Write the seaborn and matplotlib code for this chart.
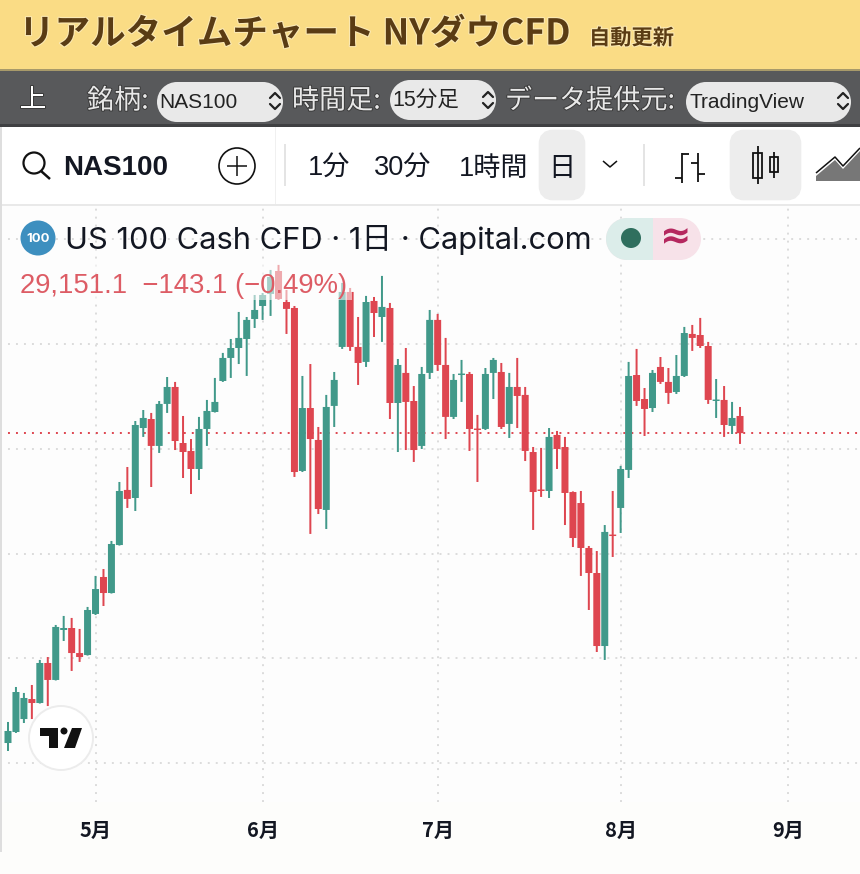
import pandas as pd
import matplotlib.pyplot as plt
import matplotlib.patches as mp
import matplotlib.patheffects as pe
import seaborn as sns

# daily OHLC
opens = [26193, 26298, 26422, 26613, 26575, 26957, 26795, 27272, 27291, 27052, 27033, 27425, 27778, 27625, 28083, 28609,
         28532, 29200, 29286, 29029, 29430, 29592, 29057, 28981, 28809, 29191, 29353, 29649, 29869, 29964, 30050, 30241,
         30365, 30480, 30699, 30403, 30346, 28790, 29391, 29086, 28418, 29411, 29974, 30499, 29974, 29831, 30413, 30260,
         30346, 29439, 29726, 29458, 29029, 29726, 30232, 29802, 29306, 29706, 29716, 29191, 29191, 29726, 29735, 29239,
         29592, 29516, 28971, 28609, 28599, 29134, 29019, 28589, 28484, 28055, 27816, 27119, 28179, 28437, 28800, 29706,
         29477, 29391, 29783, 29640, 29544, 29697, 30098, 30088, 29983, 29458, 29468, 29220, 29315]
highs = [26394, 26728, 26671, 26747, 26986, 27014, 27320, 27406, 27387, 27282, 27492, 27788, 27854, 28122, 28685, 28828,
         29267, 29372, 29344, 29458, 29687, 29640, 29315, 29095, 29306, 29468, 29678, 29917, 30050, 30308, 30260, 30470,
         30489, 30709, 30757, 30518, 30365, 29697, 29811, 29210, 29516, 29735, 30585, 30537, 30260, 30461, 30451, 30652,
         30394, 29859, 29964, 29601, 29783, 30327, 30289, 30060, 29716, 29850, 29735, 29325, 29773, 29869, 29821, 29726,
         29869, 29592, 29019, 29010, 29200, 29172, 29115, 28595, 28599, 28074, 28026, 28274, 28599, 28838, 29831, 29955,
         29582, 29754, 29878, 29773, 29897, 30165, 30184, 30251, 30022, 29668, 29601, 29449, 29401]
lows = [26117, 26289, 26384, 26422, 26570, 26546, 26790, 27167, 26881, 26967, 27028, 27415, 27501, 27620, 28078, 28437,
        28408, 29115, 28637, 28962, 29344, 28990, 28723, 28570, 28704, 29029, 29348, 29640, 29678, 29811, 29697, 30155,
        30232, 30270, 30423, 30098, 28733, 28780, 28189, 28379, 28236, 29210, 29955, 29936, 29611, 29783, 30069, 30022,
        29286, 28971, 28990, 28876, 29000, 29668, 29745, 29095, 29286, 29449, 28981, 28685, 29181, 29477, 29191, 29105,
        29200, 28885, 28227, 28542, 28532, 28809, 28274, 28064, 27788, 27463, 27062, 26986, 27969, 28198, 28723, 29411,
        29124, 29353, 29621, 29430, 29525, 29687, 29936, 29964, 29430, 29296, 29115, 29143, 29048]
closes = [26308, 26680, 26623, 26575, 26957, 26795, 27301, 27291, 27052, 27014, 27463, 27663, 27625, 28093, 28599, 28523,
          29229, 29296, 29029, 29430, 29592, 29076, 28971, 28809, 29191, 29363, 29449, 29869, 29964, 30060, 30232, 30327,
          30470, 30642, 30432, 30337, 28780, 29391, 29095, 28427, 29401, 29659, 30499, 29974, 29821, 30403, 30298, 30356,
          29439, 29802, 29449, 28990, 29716, 30232, 29802, 29306, 29659, 29716, 29191, 29181, 29716, 29850, 29210, 29592,
          29506, 28981, 28589, 28599, 29115, 29000, 28580, 28150, 28055, 27816, 27119, 28208, 28169, 28809, 29697, 29458,
          29382, 29726, 29640, 29535, 29697, 30107, 30060, 29983, 29468, 29468, 29229, 29296, 29151]
month_pos = [11, 32, 54, 77, 98]
month_labels = ['5月', '6月', '7月', '8月', '9月']
price_grid = [26000, 27000, 28000, 29000, 30000, 31000]
last_price = 29151.1

UP = '#41998a'
DOWN = '#de4650'
W, H = 860, 874
JP = ['Noto Sans CJK JP', 'DejaVu Sans']
LATIN = ['Inter', 'Noto Sans CJK JP', 'DejaVu Sans']
HELV = ['Liberation Sans', 'Noto Sans CJK JP', 'DejaVu Sans']
DOTS = (0, (1, 3.11))

sns.set_theme(style='white')
plt.rcParams['font.family'] = JP

df = pd.DataFrame({'idx': range(len(opens)), 'open': opens, 'high': highs, 'low': lows, 'close': closes})
df['up'] = df['close'] >= df['open']
df['base'] = df[['open', 'close']].min(axis=1)
df['body'] = (df['open'] - df['close']).abs().clip(lower=14)
df['wick'] = df['high'] - df['low']

fig = plt.figure(figsize=(W / 100, H / 100), dpi=100, facecolor='#fdfdfb')

# chart axes, pixel rows 205..802
ax = fig.add_axes([0, (H - 802) / H, 1, (802 - 205) / H], zorder=1, facecolor='#fdfdfd')
for up, colour in [(True, UP), (False, DOWN)]:
    part = df[df['up'] == up]
    sns.barplot(data=part, x='idx', y='wick', bottom=part['low'], native_scale=True, width=0.25, color=colour,
                saturation=1, errorbar=None, linewidth=0, ax=ax, zorder=3)
    sns.barplot(data=part, x='idx', y='body', bottom=part['base'], native_scale=True, width=0.88, color=colour,
                saturation=1, errorbar=None, linewidth=0, ax=ax, zorder=3)
for bar in ax.patches:
    bar.set_snap(False)
ax.set_xlim(-1.005, 107.08)
ax.set_ylim(25630, 31329)
ax.set_xlabel('')
ax.set_ylabel('')
ax.set_xticks(month_pos)
ax.set_xticklabels(month_labels, fontsize=14.5, fontweight='bold', color='#131722')
ax.set_yticks(price_grid)
ax.set_yticklabels([])
ax.tick_params(axis='x', length=0, pad=13)
ax.tick_params(axis='y', length=0)
ax.grid(True, color='#dcdcdc', lw=1.4, ls=DOTS, zorder=0)
ax.axhline(last_price, color=DOWN, lw=1.4, ls=DOTS, zorder=1)
sns.despine(ax=ax, left=True, bottom=True)

# everything round the chart, in picture pixels
ui = fig.add_axes([0, 0, 1, 1], zorder=2, facecolor='none')
ui.set_xlim(0, W)
ui.set_ylim(H, 0)
ui.axis('off')


def box(x0, y0, x1, y1, colour, **kw):
    ui.add_patch(mp.Rectangle((x0, y0), x1 - x0, y1 - y0, fc=colour, ec='none', **kw))


def pill(x0, y0, x1, y1, colour):
    r = (y1 - y0) / 2
    ui.add_patch(mp.Circle((x0 + r, y0 + r), r, fc=colour, ec='none'))
    ui.add_patch(mp.Circle((x1 - r, y0 + r), r, fc=colour, ec='none'))
    box(x0 + r, y0, x1 - r, y1, colour)


def updown(x, y):
    ui.plot([x - 5, x, x + 5], [y - 3, y - 8, y - 3], color='#222222', lw=1.6)
    ui.plot([x - 5, x, x + 5], [y + 3, y + 8, y + 3], color='#222222', lw=1.6)


def line(xs, ys, colour='#111111', lw=1.3):
    ui.plot(xs, ys, color=colour, lw=lw, solid_capstyle='butt')


# header bands
box(0, 0, W, 70, '#fadc85')
box(0, 70, W, 126, '#58595b')
box(0, 126, W, 205, '#ffffff')
box(0, 204, W, 206, '#e9e9e9')
box(0, 126, 2, 852, '#dedede')
box(0, 69, W, 71, '#a89a6a')
box(0, 124, W, 127, '#3f4042')

glow = [pe.withStroke(linewidth=1.6, foreground='#fbe9b4')]
dark = [pe.withStroke(linewidth=1.4, foreground='#3a3a3a')]
ui.text(19, 34, 'リアルタイムチャート NYダウCFD', fontsize=25.6, fontweight='bold', color='#5a3c14', va='center',
        path_effects=glow)
ui.text(589, 38, '自動更新', fontsize=15.3, fontweight='bold', color='#5a3c14', va='center', path_effects=glow)

ui.text(20, 100, '上', fontsize=19, color='white', va='center', path_effects=dark)
ui.text(87, 101, '銘柄:', fontsize=19.5, color='#e8e8e8', va='center', path_effects=dark)
ui.text(292, 101, '時間足:', fontsize=19.5, color='#e8e8e8', va='center', path_effects=dark)
ui.text(505, 101, 'データ提供元:', fontsize=19.5, color='#e8e8e8', va='center', path_effects=dark)
pill(157, 82, 283, 122, '#e9e9e9')
pill(390, 80, 496, 120, '#e9e9e9')
pill(686, 82, 851, 122, '#e9e9e9')
ui.text(159, 102, 'NAS100', fontsize=15, family=HELV, color='#222222', va='center')
ui.text(392, 101, '15分足', fontsize=15.5, family=HELV, color='#222222', va='center')
ui.text(689, 102, 'TradingView', fontsize=15, family=HELV, color='#222222', va='center')
updown(275, 101)
updown(488, 100)
updown(843, 101)

# toolbar
ui.add_patch(mp.Circle((34, 163), 10.5, fc='none', ec='#111111', lw=1.6))
line([41, 50], [171, 179], lw=1.8)
ui.text(63, 168, 'NAS100', fontsize=20, fontweight='bold', family=HELV, color='#131722', va='center')
ui.add_patch(mp.Circle((237, 166), 18, fc='none', ec='#111111', lw=1.2))
line([227, 247], [166, 166], lw=1.1)
line([237, 237], [156, 176], lw=1.1)
box(275, 127, 276, 204, '#f0f0f0')
box(284, 144, 286, 186, '#e4e4e4')
box(643, 144, 645, 186, '#e4e4e4')
ui.text(308, 169, '1分', fontsize=19.5, family=HELV, color='#131722', va='center')
ui.text(374, 169, '30分', fontsize=19.5, family=HELV, color='#131722', va='center')
ui.text(459, 169, '1時間', fontsize=19.5, family=HELV, color='#131722', va='center')
ui.add_patch(mp.FancyBboxPatch((547, 138), 30, 54, boxstyle='round,pad=0,rounding_size=6', fc='#ededed', ec='#ededed',
                               lw=12))
ui.text(562, 169, '日', fontsize=19.5, family=HELV, color='#131722', va='center', ha='center')
line([603, 610, 617], [161, 167, 161], lw=1.1)

line([682, 682], [153, 183])
line([675, 682], [178, 178])
line([682, 689], [154, 154])
line([698, 698], [153, 182])
line([691, 698], [163, 163])
line([698, 705], [174, 174])
ui.add_patch(mp.FancyBboxPatch((738, 138), 55, 54, boxstyle='round,pad=0,rounding_size=6', fc='#ededed', ec='#ededed',
                               lw=12))
line([758, 758], [146, 184])
ui.add_patch(mp.Rectangle((753, 153), 9, 25, fc='#ededed', ec='#111111', lw=1.3))
line([774, 774], [152, 178])
ui.add_patch(mp.Rectangle((770, 157), 8, 15, fc='#ededed', ec='#111111', lw=1.3))
ui.add_patch(mp.Polygon([(816, 181), (816, 176), (835, 160), (843, 169), (860, 151), (860, 181)], fc='#777777',
                        ec='none'))
line([816, 835, 843, 860], [173, 157, 166, 148], lw=1.1)

# legend row over the chart
ui.add_patch(mp.Circle((38, 238), 17.5, fc='#3d8fbf', ec='none'))
ui.text(38, 238.5, '100', fontsize=9.5, fontweight='bold', family=LATIN, color='white', ha='center', va='center')
ui.text(65, 240, 'US 100 Cash CFD · 1日 · Capital.com', fontsize=22.2, family=LATIN, color='#131722', va='center')
pill(606, 218, 701, 260, '#f7e2e9')
pill(606, 218, 680, 260, '#dcedea')
box(653, 218, 681, 260, '#f7e2e9')
ui.add_patch(mp.Circle((631, 238), 10, fc='#2f6f5e', ec='none'))
ui.text(676, 238, '≈', fontsize=27, fontweight='bold', family=['DejaVu Sans'], color='#b5285f', ha='center',
        va='center')

box(3, 262, 352, 300, '#fdfdfd', alpha=0.55)
ui.text(20, 286, '29,151.1  −143.1 (−0.49%)', fontsize=19.8, family=HELV, color='#dd5c65', va='center')

# TradingView badge
ui.add_patch(mp.Circle((61, 738), 32, fc='white', ec='#ececec', lw=1.4))
ui.add_patch(mp.Polygon([(40, 728), (58, 728), (58, 748), (49, 748), (49, 735.5), (40, 735.5)], fc='#111111',
                        ec='none'))
ui.add_patch(mp.Circle((64, 731), 3.5, fc='#111111', ec='none'))
ui.add_patch(mp.Polygon([(72, 728), (82, 728), (75, 748), (64, 748)], fc='#111111', ec='none'))

fig.savefig('out.png', dpi=100, facecolor=fig.get_facecolor())
